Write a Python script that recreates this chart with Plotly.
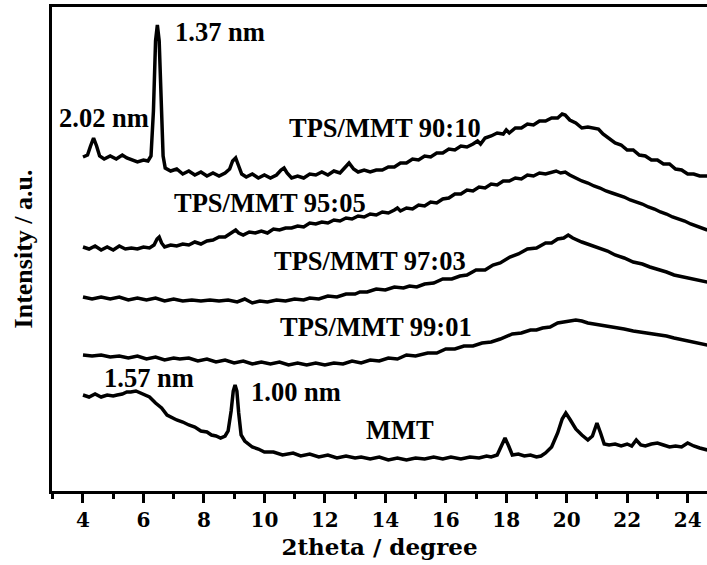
import plotly.graph_objects as go

# XRD patterns, stacked; intensity in arbitrary units (offsets included)
tt_9010 = [4.00, 4.15, 4.25, 4.35, 4.45, 4.55, 4.70, 4.90, 5.10, 5.30, 5.45, 5.60, 5.80, 6.00, 6.15,
           6.25, 6.33, 6.40, 6.46, 6.52, 6.58, 6.65, 6.72, 6.90, 7.10, 7.30, 7.50, 7.70, 7.90, 8.10,
           8.30, 8.50, 8.70, 8.85, 8.95, 9.05, 9.15, 9.25, 9.40, 9.60, 9.80, 10.00, 10.20, 10.40,
           10.55, 10.65, 10.75, 10.90, 11.10, 11.30, 11.50, 11.70, 11.90, 12.10, 12.30, 12.50, 12.65,
           12.80, 12.95, 13.10, 13.30, 13.50, 13.70, 13.90, 14.10, 14.30, 14.50, 14.70, 14.90, 15.10,
           15.30, 15.50, 15.70, 15.90, 16.10, 16.30, 16.50, 16.70, 16.90, 17.05, 17.15, 17.30, 17.50,
           17.70, 17.90, 18.00, 18.10, 18.30, 18.50, 18.70, 18.90, 19.10, 19.30, 19.50, 19.70, 19.85,
           19.95, 20.10, 20.30, 20.50, 20.70, 20.90, 21.05, 21.20, 21.40, 21.60, 21.80, 22.00, 22.20,
           22.40, 22.60, 22.80, 23.00, 23.20, 23.40, 23.60, 23.80, 24.00, 24.20, 24.40, 24.65]
i_9010 = [334, 336, 345, 353, 345, 335, 332, 335, 332, 336, 333, 331, 329, 331, 330,
          335, 380, 450, 466, 450, 390, 335, 323, 320, 322, 317, 320, 316, 319, 315,
          318, 315, 318, 322, 330, 333, 325, 317, 314, 317, 313, 316, 313, 316,
          321, 323, 318, 313, 315, 313, 317, 316, 319, 316, 320, 318, 323,
          328, 322, 319, 321, 319, 321, 321, 324, 324, 328, 328, 332, 331,
          335, 334, 338, 338, 342, 341, 345, 344, 347, 350, 347, 353, 355,
          358, 357, 361, 358, 363, 363, 367, 366, 370, 370, 373, 373, 377,
          376, 371, 368, 363, 364, 363, 362, 357, 353, 348, 346, 341, 341,
          336, 335, 331, 331, 327, 327, 322, 321, 317, 317, 315, 315]

tt_9505 = [4.00, 4.20, 4.40, 4.60, 4.80, 5.00, 5.20, 5.40, 5.60, 5.80, 6.00, 6.20, 6.35, 6.45, 6.52,
           6.60, 6.70, 6.90, 7.10, 7.30, 7.50, 7.70, 7.90, 8.10, 8.30, 8.50, 8.70, 8.90, 9.05, 9.15,
           9.30, 9.50, 9.70, 9.90, 10.10, 10.30, 10.50, 10.70, 10.90, 11.10, 11.30, 11.50, 11.70,
           11.90, 12.10, 12.30, 12.50, 12.70, 12.90, 13.10, 13.30, 13.50, 13.70, 13.90, 14.10, 14.30,
           14.40, 14.50, 14.70, 14.90, 15.10, 15.30, 15.50, 15.70, 15.90, 16.10, 16.30, 16.50, 16.70,
           16.90, 17.10, 17.30, 17.50, 17.70, 17.90, 18.10, 18.30, 18.50, 18.70, 18.90, 19.10, 19.30,
           19.50, 19.65, 19.80, 19.95, 20.10, 20.30, 20.50, 20.70, 20.90, 21.10, 21.30, 21.50, 21.70,
           21.90, 22.10, 22.30, 22.50, 22.70, 22.90, 23.10, 23.30, 23.50, 23.70, 23.90, 24.10, 24.30,
           24.50, 24.65]
i_9505 = [244, 242, 245, 241, 244, 241, 245, 242, 243, 242, 244, 243, 246, 252, 254,
          248, 244, 246, 245, 247, 246, 249, 247, 250, 251, 254, 254, 258, 261, 258,
          256, 259, 258, 260, 258, 262, 261, 263, 263, 265, 264, 268, 267,
          269, 268, 271, 270, 273, 272, 275, 274, 277, 276, 279, 278, 281,
          283, 280, 283, 282, 286, 285, 289, 288, 292, 293, 297, 297, 301,
          300, 304, 303, 307, 306, 310, 310, 313, 312, 316, 315, 318, 317,
          319, 320, 318, 319, 316, 313, 310, 308, 305, 303, 300, 298, 296,
          294, 291, 289, 287, 284, 282, 279, 277, 274, 272, 270, 267, 265,
          263, 261]

tt_9703 = [4.00, 4.30, 4.60, 4.90, 5.20, 5.50, 5.80, 6.10, 6.40, 6.70, 7.00, 7.30, 7.60, 7.90, 8.20,
           8.50, 8.80, 9.10, 9.35, 9.60, 9.85, 10.10, 10.40, 10.70, 11.00, 11.30, 11.50, 11.80,
           12.10, 12.40, 12.70, 13.00, 13.16, 13.40, 13.70, 14.00, 14.30, 14.60, 14.80, 15.04, 15.30,
           15.60, 15.90, 16.20, 16.47, 16.70, 17.00, 17.30, 17.56, 17.80, 18.12, 18.40, 18.70, 19.00,
           19.30, 19.50, 19.70, 19.90, 20.05, 20.20, 20.50, 20.80, 21.10, 21.35, 21.60, 21.90, 22.20,
           22.50, 22.75, 23.00, 23.30, 23.55, 23.84, 24.10, 24.40, 24.65]
i_9703 = [194, 192, 194, 192, 194, 191, 193, 191, 193, 190, 192, 190, 191, 190, 191,
          190, 191, 189, 192, 188, 190, 189, 191, 190, 192, 191, 193, 192,
          195, 194, 197, 197, 199, 199, 202, 201, 204, 203, 205, 204, 207,
          208, 212, 212, 215, 216, 221, 221, 226, 228, 234, 237, 242, 243,
          248, 248, 252, 253, 256, 253, 249, 246, 243, 240, 236, 233, 229,
          227, 224, 222, 219, 216, 214, 212, 210, 209]

tt_9901 = [4.00, 4.30, 4.60, 4.90, 5.20, 5.50, 5.80, 6.10, 6.40, 6.70, 7.00, 7.20, 7.50, 7.80, 8.10,
           8.40, 8.70, 9.00, 9.30, 9.60, 9.90, 10.20, 10.50, 10.80, 11.10, 11.40, 11.70, 12.00,
           12.30, 12.60, 12.90, 13.20, 13.50, 13.80, 14.10, 14.40, 14.70, 15.00, 15.40, 15.70, 16.00,
           16.30, 16.60, 16.90, 17.20, 17.50, 17.80, 17.96, 18.20, 18.50, 18.80, 19.00, 19.20, 19.45,
           19.70, 19.90, 20.10, 20.30, 20.50, 20.70, 20.90, 21.10, 21.35, 21.60, 21.90, 22.20, 22.45,
           22.75, 23.00, 23.30, 23.55, 23.84, 24.10, 24.40, 24.65]
i_9901 = [136, 135, 136, 134, 135, 133, 135, 132, 134, 131, 133, 132, 133, 130, 132,
          129, 131, 128, 130, 127, 129, 127, 129, 126, 128, 126, 128, 126,
          128, 127, 130, 128, 131, 130, 133, 132, 136, 135, 138, 138, 142,
          142, 145, 145, 148, 149, 152, 154, 157, 158, 161, 161, 163, 164,
          168, 169, 170, 171, 170, 168, 167, 166, 165, 164, 162, 160, 159,
          158, 157, 155, 153, 151, 149, 147, 146]

tt_mmt = [4.00, 4.20, 4.40, 4.60, 4.80, 5.00, 5.13, 5.30, 5.45, 5.58, 5.75, 5.90, 6.05, 6.20, 6.40,
          6.60, 6.78, 6.90, 7.10, 7.30, 7.50, 7.70, 7.90, 8.10, 8.25, 8.40, 8.55, 8.70, 8.80, 8.90,
          8.97, 9.03, 9.09, 9.15, 9.23, 9.35, 9.60, 9.80, 10.00, 10.30, 10.60, 10.95, 11.20, 11.50,
          11.80, 12.10, 12.40, 12.70, 13.00, 13.20, 13.50, 13.80, 14.10, 14.40, 14.70, 15.00, 15.30,
          15.60, 15.90, 16.17, 16.50, 16.80, 17.10, 17.35, 17.50, 17.70, 17.82, 17.96, 18.08, 18.20,
          18.40, 18.60, 18.80, 19.00, 19.15, 19.30, 19.50, 19.70, 19.85, 19.97, 20.10, 20.30, 20.50,
          20.70, 20.85, 21.00, 21.12, 21.24, 21.40, 21.60, 21.80, 22.00, 22.15, 22.30, 22.45, 22.60,
          22.80, 23.00, 23.20, 23.40, 23.60, 23.80, 24.00, 24.20, 24.40, 24.65]
i_mmt = [96, 94, 97, 94, 96, 95, 96, 97, 99, 99, 100, 98, 96, 94, 88,
         83, 76, 74, 71, 69, 66, 64, 60, 59, 56, 55, 53, 55, 60, 80,
         100, 106, 100, 78, 56, 50, 44, 42, 39, 39, 36, 38, 35, 37,
         34, 36, 33, 35, 33, 34, 32, 34, 31, 33, 31, 33, 32,
         34, 32, 34, 32, 34, 33, 35, 34, 36, 43, 53, 45, 36,
         37, 35, 36, 34, 35, 38, 44, 58, 72, 78, 72, 62, 56,
         51, 55, 68, 58, 47, 46, 47, 45, 47, 45, 51, 46, 45,
         47, 48, 46, 44, 45, 44, 48, 45, 43, 41]

series = [
    (tt_9010, i_9010),
    (tt_9505, i_9505),
    (tt_9703, i_9703),
    (tt_9901, i_9901),
    (tt_mmt, i_mmt),
]

# label text, 2theta position, intensity position
labels = [
    ("1.37 nm", 8.53, 459),
    ("2.02 nm", 4.68, 373),
    ("TPS/MMT 90:10", 13.99, 363),
    ("TPS/MMT 95:05", 10.17, 288),
    ("TPS/MMT 97:03", 13.48, 230),
    ("TPS/MMT 99:01", 13.69, 164),
    ("1.57 nm", 6.18, 113),
    ("1.00 nm", 11.05, 99),
    ("MMT", 14.48, 61),
]

tick_vals = [4, 6, 8, 10, 12, 14, 16, 18, 20, 22, 24]

fig = go.Figure()
for tt, inten in series:
    fig.add_trace(go.Scatter(x=tt, y=inten, mode="lines",
                             line=dict(color="black", width=3.5),
                             showlegend=False, hoverinfo="skip"))

for text, x, y in labels:
    fig.add_annotation(x=x, y=y, text=f"<b>{text}</b>", showarrow=False,
                       font=dict(family="Liberation Serif", size=26.5, color="black"),
                       xanchor="center", yanchor="middle")

fig.update_layout(
    width=707, height=565,
    margin=dict(l=52, r=0, t=7, b=74),
    paper_bgcolor="white", plot_bgcolor="white",
    xaxis=dict(
        range=[2.975, 24.64],
        tickvals=tick_vals, ticktext=[f"<b>{v}</b>" for v in tick_vals],
        ticks="outside", ticklen=9, tickwidth=2.5, tickcolor="black",
        minor=dict(dtick=1, tick0=0, ticks="outside", ticklen=5, tickwidth=2.5, tickcolor="black"),
        showline=True, linewidth=2.5, linecolor="black", mirror=True,
        showgrid=False, zeroline=False,
        tickfont=dict(family="DejaVu Serif", size=20, color="black"),
        title=dict(text="<b>2theta / degree</b>", standoff=9,
                   font=dict(family="DejaVu Serif", size=23, color="black")),
    ),
    yaxis=dict(
        range=[0, 484],
        showticklabels=False, ticks="",
        showline=True, linewidth=2.5, linecolor="black",
        showgrid=False, zeroline=False,
        title=dict(text="<b>Intensity / a.u.</b>", standoff=10,
                   font=dict(family="Liberation Serif", size=26, color="black")),
    ),
)

fig.write_html("out.html")
